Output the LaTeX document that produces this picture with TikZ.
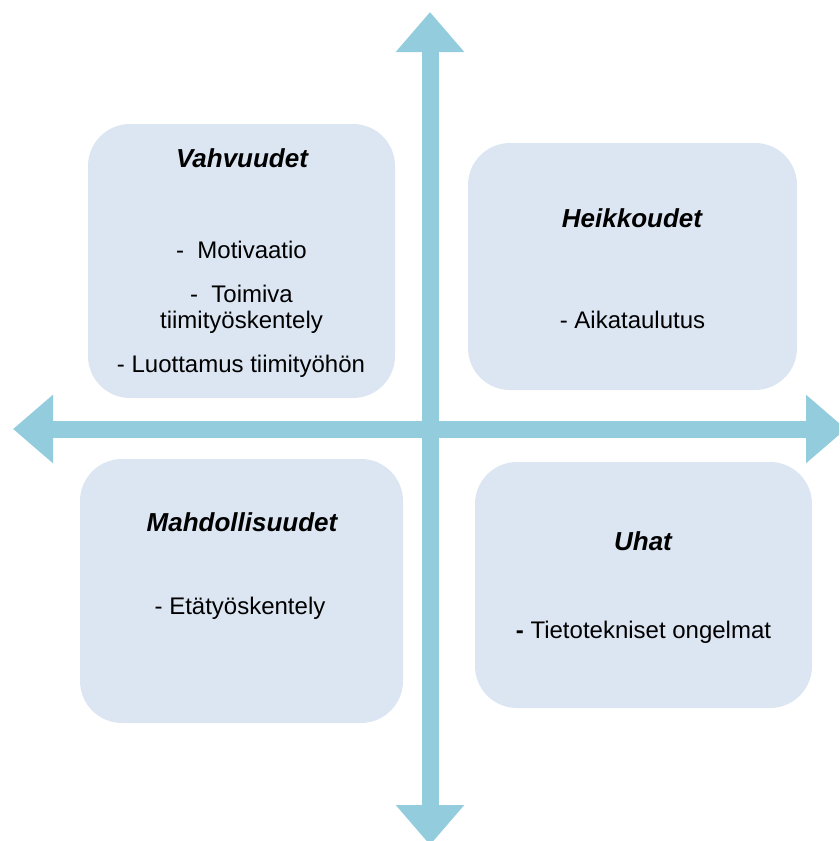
\documentclass[tikz,border=0pt]{standalone}
\usepackage{fontspec}
\setmainfont{Liberation Sans}
\usetikzlibrary{arrows.meta}

\definecolor{axisblue}{HTML}{93CDDD}
\definecolor{boxfill}{HTML}{DCE6F2}

\begin{document}
\begin{tikzpicture}[
    x=1pt, y=-1pt,
    box/.style={fill=boxfill, rounded corners=42pt, inner sep=0pt},
    title/.style={font=\fontsize{26}{30}\selectfont\bfseries\itshape},
    item/.style={font=\fontsize{24}{26}\selectfont, align=center},
    axis/.style={axisblue, line width=17pt,
        {Triangle[length=40pt, width=66pt]}-{Triangle[length=40pt, width=66pt]}}
]
\clip (0,0) rectangle (839,841);

% quadrants
\node[box, minimum width=307pt, minimum height=274pt] (strengths) at (241.5,261) {};
\node[box, minimum width=329pt, minimum height=247pt] (weaknesses) at (632.5,266.5) {};
\node[box, minimum width=323pt, minimum height=264pt] (chances) at (241.5,591) {};
\node[box, minimum width=337pt, minimum height=246pt] (threats) at (643.5,585) {};

% axes
\coordinate (top) at (430,12);
\coordinate (bottom) at (430,845);
\coordinate (left) at (13,429);
\coordinate (right) at (846,429);
\draw[axis] (bottom) -- (top);
\draw[axis] (left) -- (right);

% texts
\node[title] (strengthsTitle) at (242,158) {Vahvuudet};
\node[item] (motivation) at (241.5,250) {-\ \ Motivaatio};
\node[item] (teamwork) at (241.5,309) {-\ \ Toimiva\\tiimityöskentely};
\node[item] (trust) at (241,366) {- Luottamus tiimityöhön};

\node[title] (weaknessesTitle) at (632,218) {Heikkoudet};
\node[item] (schedule) at (632.5,320) {- Aikataulutus};

\node[title] (chancesTitle) at (242,522) {Mahdollisuudet};
\node[item] (remote) at (240,608) {- Etätyöskentely};

\node[title] (threatsTitle) at (643,541) {Uhat};
\node[item] (it) at (643.5,632) {\textbf{-} Tietotekniset ongelmat};

\end{tikzpicture}
\end{document}
